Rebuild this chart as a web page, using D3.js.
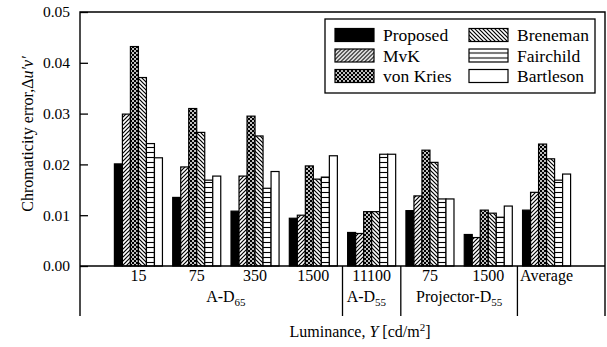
<!DOCTYPE html>
<html>
<head>
<meta charset="utf-8">
<script src="https://cdn.jsdelivr.net/npm/d3@7"></script>
<style>
  body { margin: 0; background: #fff; }
  svg, svg text { font-family: "Liberation Serif", "Times New Roman", serif; fill: #000; }
</style>
</head>
<body>
<svg id="chart" width="607" height="347"></svg>
<script>
const conditions = ["15", "75", "350", "1500", "11100", "75", "1500", "Average"];
const series = ["Proposed", "MvK", "von Kries", "Breneman", "Fairchild", "Bartleson"];

// one array per method, values per condition
const proposed  = [0.0201, 0.0135, 0.0108, 0.0094, 0.0066, 0.0109, 0.0062, 0.0110];
const mvk       = [0.0299, 0.0195, 0.0177, 0.0100, 0.0064, 0.0138, 0.0056, 0.0145];
const vonKries  = [0.0432, 0.0310, 0.0295, 0.0197, 0.0107, 0.0228, 0.0110, 0.0240];
const breneman  = [0.0371, 0.0263, 0.0256, 0.0171, 0.0107, 0.0204, 0.0104, 0.0211];
const fairchild = [0.0241, 0.0169, 0.0153, 0.0175, 0.0220, 0.0132, 0.0096, 0.0169];
const bartleson = [0.0213, 0.0177, 0.0186, 0.0217, 0.0220, 0.0132, 0.0118, 0.0181];

const yTicks = [0, 0.01, 0.02, 0.03, 0.04, 0.05];

// illuminant groups: first/last condition index, name, subscript
const groups = [
  { from: 0, to: 3, name: "A-D", sub: "65", align: "middle" },
  { from: 4, to: 4, name: "A-D", sub: "55", align: "start" },
  { from: 5, to: 6, name: "Projector-D", sub: "55", align: "middle" }
];

const values = [proposed, mvk, vonKries, breneman, fairchild, bartleson];

const svg = d3.select("#chart");
const plotLeft = 80, plotRight = 605, plotTop = 12, plotBottom = 266, tableBottom = 316;
const serif = "Liberation Serif, Times New Roman, serif";

const x0 = d3.scaleBand()
  .domain(d3.range(conditions.length))
  .range([plotLeft, plotRight])
  .paddingInner(0.176)
  .paddingOuter(0.59);

const x1 = d3.scaleBand()
  .domain(series)
  .range([0, x0.bandwidth()]);

const y = d3.scaleLinear().domain([0, 0.05]).range([plotBottom, plotTop]);

// fill patterns
const defs = svg.append("defs");

const slash = defs.append("pattern")
  .attr("id", "p-mvk").attr("patternUnits", "userSpaceOnUse")
  .attr("width", 4).attr("height", 4);
slash.append("rect").attr("width", 4).attr("height", 4).attr("fill", "#fff");
slash.append("path").attr("d", "M-1,1 l2,-2 M0,4 l4,-4 M3,5 l2,-2")
  .attr("stroke", "#000").attr("stroke-width", 1.2);

const back = defs.append("pattern")
  .attr("id", "p-bren").attr("patternUnits", "userSpaceOnUse")
  .attr("width", 4).attr("height", 4);
back.append("rect").attr("width", 4).attr("height", 4).attr("fill", "#fff");
back.append("path").attr("d", "M-1,3 l2,2 M0,0 l4,4 M3,-1 l2,2")
  .attr("stroke", "#000").attr("stroke-width", 1.2);

const check = defs.append("pattern")
  .attr("id", "p-vk").attr("patternUnits", "userSpaceOnUse")
  .attr("width", 4).attr("height", 4);
check.append("rect").attr("width", 4).attr("height", 4).attr("fill", "#000");
check.append("circle").attr("cx", 1).attr("cy", 1).attr("r", 1).attr("fill", "#fff");
check.append("circle").attr("cx", 3).attr("cy", 3).attr("r", 1).attr("fill", "#fff");

const horiz = defs.append("pattern")
  .attr("id", "p-fair").attr("patternUnits", "userSpaceOnUse")
  .attr("width", 8).attr("height", 5);
horiz.append("rect").attr("width", 8).attr("height", 5).attr("fill", "#fff");
horiz.append("path").attr("d", "M0,2.5 H8").attr("stroke", "#000").attr("stroke-width", 1.1);

const fills = {
  "Proposed": "#000",
  "MvK": "url(#p-mvk)",
  "von Kries": "url(#p-vk)",
  "Breneman": "url(#p-bren)",
  "Fairchild": "url(#p-fair)",
  "Bartleson": "#fff"
};

// bars
const barData = [];
conditions.forEach((c, i) => {
  series.forEach((s, k) => barData.push({ i, s, v: values[k][i] }));
});

svg.append("g")
  .selectAll("rect")
  .data(barData)
  .join("rect")
  .attr("x", d => x0(d.i) + x1(d.s))
  .attr("y", d => y(d.v))
  .attr("width", x1.bandwidth())
  .attr("height", d => plotBottom - y(d.v))
  .attr("fill", d => fills[d.s])
  .attr("stroke", "#000")
  .attr("stroke-width", 1.2);

// frame
svg.append("path")
  .attr("d", `M${plotLeft},${tableBottom} V${plotTop} H${plotRight} V${tableBottom}`)
  .attr("fill", "none").attr("stroke", "#000").attr("stroke-width", 1.4);

// y axis, ticks pointing inward
const yAxis = svg.append("g")
  .attr("transform", `translate(${plotLeft},0)`)
  .call(d3.axisLeft(y).tickValues(yTicks).tickFormat(d3.format(".2f"))
    .tickSize(-8).tickPadding(10));
yAxis.attr("font-family", serif);
yAxis.select(".domain").remove();
yAxis.selectAll("line").attr("stroke-width", 1.3);
yAxis.selectAll("text").style("font-size", "15.5px").style("font-family", serif);

// x axis line at zero
svg.append("line")
  .attr("x1", plotLeft).attr("x2", plotRight).attr("y1", plotBottom).attr("y2", plotBottom)
  .attr("stroke", "#000").attr("stroke-width", 1.4);

// condition labels
const xAxis = svg.append("g")
  .attr("transform", `translate(0,${plotBottom})`)
  .call(d3.axisBottom(x0).tickFormat(i => conditions[i]).tickSize(0).tickPadding(4));
xAxis.attr("font-family", serif);
xAxis.select(".domain").remove();
xAxis.selectAll("text").style("font-size", "16px").style("font-family", serif);

// group dividers in the table under the axis
const step = x0.step();
const dividers = [3, 4, 6].map(i => x0(i) + x0.bandwidth() + (step - x0.bandwidth()) / 2);
svg.append("g")
  .selectAll("line")
  .data(dividers)
  .join("line")
  .attr("x1", d => d).attr("x2", d => d)
  .attr("y1", plotBottom).attr("y2", tableBottom)
  .attr("stroke", "#000").attr("stroke-width", 1.3);

// group names
const gLabels = svg.append("g")
  .selectAll("text")
  .data(groups)
  .join("text")
  .attr("x", d => d.align === "start"
    ? x0(d.from) - 1
    : (x0(d.from) + x0(d.to) + x0.bandwidth()) / 2)
  .attr("y", 302)
  .attr("text-anchor", d => d.align)
  .style("font-family", serif)
  .style("font-size", "16px");
gLabels.append("tspan").text(d => d.name);
gLabels.append("tspan").attr("dy", 4).style("font-size", "11px").text(d => d.sub);

// legend
const legend = svg.append("g");
legend.append("rect")
  .attr("x", 325).attr("y", 19).attr("width", 270).attr("height", 74)
  .attr("fill", "#fff").attr("stroke", "#000").attr("stroke-width", 1.3);

const legendItems = legend.selectAll("g")
  .data(series)
  .join("g")
  .attr("transform", (d, i) =>
    `translate(${i < 3 ? 335 : 469},${[35, 55.5, 76][i % 3]})`);
legendItems.append("rect")
  .attr("x", 0).attr("y", -6.5).attr("width", 39).attr("height", 13)
  .attr("fill", d => fills[d]).attr("stroke", "#000").attr("stroke-width", 1.2);
legendItems.append("text")
  .attr("x", 48).attr("y", 6)
  .style("font-family", serif)
  .style("font-size", "17.5px")
  .text(d => d);

// axis titles
const xTitle = svg.append("text")
  .attr("x", 360).attr("y", 337)
  .attr("text-anchor", "middle")
  .style("font-family", serif)
  .style("font-size", "16px");
xTitle.append("tspan").text("Luminance, ");
xTitle.append("tspan").style("font-style", "italic").text("Y");
xTitle.append("tspan").text(" [cd/m");
xTitle.append("tspan").attr("dy", -6).style("font-size", "11px").text("2");
xTitle.append("tspan").attr("dy", 6).text("]");

const yTitle = svg.append("text")
  .attr("transform", "translate(33,134) rotate(-90)")
  .attr("text-anchor", "middle")
  .style("font-family", serif)
  .style("font-size", "16px");
yTitle.append("tspan").text("Chromaticity error,Δ");
yTitle.append("tspan").style("font-style", "italic").text("u′v′");
</script>
</body>
</html>
